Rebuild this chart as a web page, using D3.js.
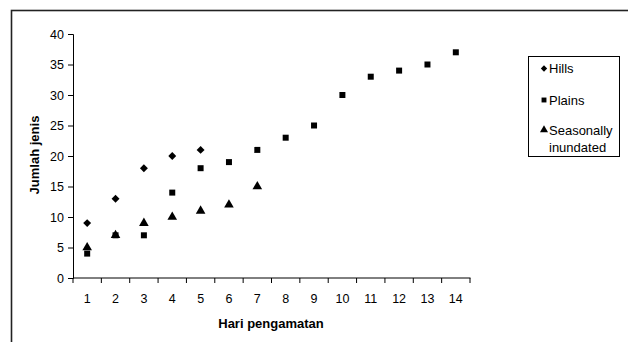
<!DOCTYPE html>
<html lang="en">
<head>
<meta charset="UTF-8">
<script src="https://cdnjs.cloudflare.com/ajax/libs/d3/7.8.5/d3.min.js"></script>
<style>
  html, body { margin: 0; padding: 0; background: #fff; }
  svg { font-family: "Liberation Sans", Arial, sans-serif; display: block; }
</style>
</head>
<body>
<div id="chart"></div>
<script>
  // days on the x axis
  var days = [1, 2, 3, 4, 5, 6, 7, 8, 9, 10, 11, 12, 13, 14];
  var yTicks = [0, 5, 10, 15, 20, 25, 30, 35, 40];

  // number of species per habitat
  var hills = [9, 13, 18, 20, 21];
  var plains = [4, 7, 7, 14, 18, 19, 21, 23, 25, 30, 33, 34, 35, 37];
  var seasonally = [5, 7, 9, 10, 11, 12, 15];

  var seriesNames = ["Hills", "Plains", "Seasonally inundated"];

  var width = 628, height = 342;
  var margin = {left: 73, top: 34, right: 158, bottom: 64};

  var svg = d3.select("#chart").append("svg")
    .attr("width", width)
    .attr("height", height);

  // outer frame (runs off the right and bottom edges)
  svg.append("rect")
    .attr("x", 11.5).attr("y", 10.5)
    .attr("width", 640).attr("height", 360)
    .attr("fill", "none")
    .attr("stroke", "#222")
    .attr("stroke-width", 1.6);

  var x = d3.scaleBand()
    .domain(days)
    .range([margin.left, 470]);

  var y = d3.scaleLinear()
    .domain([0, 40])
    .range([278, margin.top]);

  var g = svg.append("g");

  // y axis
  var yAxis = g.append("g")
    .attr("transform", "translate(" + margin.left + ",0)")
    .call(d3.axisLeft(y).tickValues(yTicks).tickSize(5).tickPadding(4));
  yAxis.select(".domain").attr("stroke", "#000");
  yAxis.selectAll("text").style("font-size", "12.5px").attr("fill", "#000");

  // x axis with ticks between categories
  var xAxis = g.append("g")
    .attr("transform", "translate(0," + y(0) + ")");
  xAxis.append("line")
    .attr("x1", margin.left).attr("x2", 470.5)
    .attr("stroke", "#000");
  xAxis.selectAll(".tk")
    .data(days.concat([15]))
    .enter().append("line")
    .attr("x1", function(d) { return d <= 14 ? x(d) : x(14) + x.bandwidth(); })
    .attr("x2", function(d) { return d <= 14 ? x(d) : x(14) + x.bandwidth(); })
    .attr("y1", 0).attr("y2", 5)
    .attr("stroke", "#000");
  xAxis.selectAll(".lbl")
    .data(days)
    .enter().append("text")
    .attr("x", function(d) { return x(d) + x.bandwidth() / 2; })
    .attr("y", 25)
    .attr("text-anchor", "middle")
    .style("font-size", "12.5px")
    .text(function(d) { return d; });

  // axis titles
  svg.append("text")
    .attr("x", 271).attr("y", 328)
    .attr("text-anchor", "middle")
    .style("font-size", "13px")
    .style("font-weight", "bold")
    .text("Hari pengamatan");

  svg.append("text")
    .attr("transform", "translate(39,155) rotate(-90)")
    .attr("text-anchor", "middle")
    .style("font-size", "13px")
    .style("font-weight", "bold")
    .text("Jumlah jenis");

  var cx = function(i) { return x(days[i]) + x.bandwidth() / 2; };

  var diamond = d3.symbol().type(d3.symbolDiamond2).size(40);
  var square = d3.symbol().type(d3.symbolSquare).size(36);
  var triangle = d3.symbol().type(d3.symbolTriangle).size(40);

  var pts = g.append("g");

  pts.selectAll(".plains").data(plains).enter().append("path")
    .attr("d", square)
    .attr("transform", function(d, i) { return "translate(" + cx(i) + "," + y(d) + ")"; })
    .attr("fill", "#000");

  pts.selectAll(".hills").data(hills).enter().append("path")
    .attr("d", diamond)
    .attr("transform", function(d, i) { return "translate(" + cx(i) + "," + y(d) + ")"; })
    .attr("fill", "#000");

  pts.selectAll(".seas").data(seasonally).enter().append("path")
    .attr("d", triangle)
    .attr("transform", function(d, i) { return "translate(" + cx(i) + "," + y(d) + ")"; })
    .attr("fill", "#000");

  // legend
  var lg = svg.append("g");
  lg.append("rect")
    .attr("x", 528.5).attr("y", 56.5)
    .attr("width", 91).attr("height", 100)
    .attr("fill", "#fff")
    .attr("stroke", "#000");

  var legSymbols = [
    d3.symbol().type(d3.symbolDiamond2).size(26),
    d3.symbol().type(d3.symbolSquare).size(24),
    d3.symbol().type(d3.symbolTriangle).size(28)
  ];
  var rowsY = [68.5, 100, 130];
  seriesNames.forEach(function(name, i) {
    lg.append("path")
      .attr("d", legSymbols[i])
      .attr("transform", "translate(544," + rowsY[i] + ")")
      .attr("fill", "#000");
    var words = name === "Seasonally inundated" ? ["Seasonally", "inundated"] : [name];
    words.forEach(function(w, j) {
      lg.append("text")
        .attr("x", 549).attr("y", rowsY[i] + 4.5 + j * 17)
        .style("font-size", "13px")
        .text(w);
    });
  });
</script>
</body>
</html>
